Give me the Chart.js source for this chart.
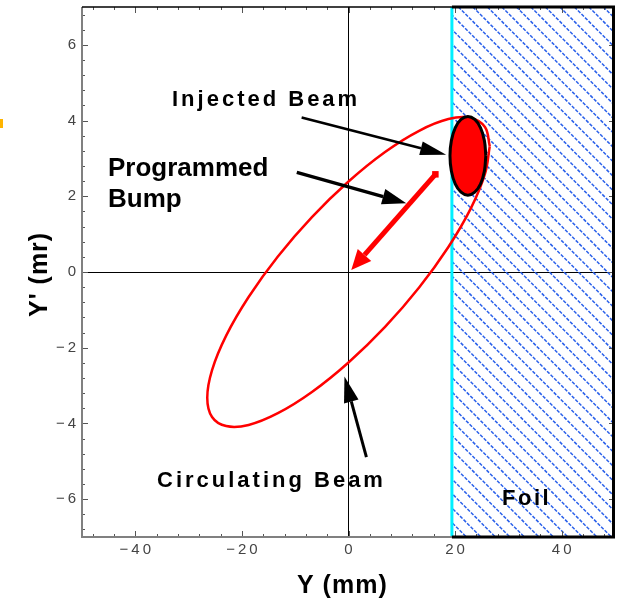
<!DOCTYPE html>
<html lang="en">
<head>
<meta charset="utf-8">
<script src="https://cdn.jsdelivr.net/npm/chart.js@4.4.1/dist/chart.umd.min.js"></script>
<style>
  body { margin: 0; background: #fff; }
</style>
</head>
<body>
<canvas id="phase" width="620" height="600"></canvas>
<script>
// circulating beam ellipse (Y in mm, Y' in mr)
const circY  = [26.5, 25.6, 22.95, 18.74, 13.25, 6.86, 0, -6.86, -13.25, -18.74, -22.95, -25.6,
                -26.5, -25.6, -22.95, -18.74, -13.25, -6.86, 0, 6.86, 13.25, 18.74, 22.95, 25.6, 26.5];
const circYp = [3.32, 2.59, 1.68, 0.66, -0.41, -1.45, -2.39, -3.17, -3.73, -4.04, -4.07, -3.83,
                -3.32, -2.59, -1.68, -0.66, 0.41, 1.45, 2.39, 3.17, 3.73, 4.04, 4.07, 3.83, 3.32];

// injected beam spot
const injY  = [25.76, 25.50, 24.78, 23.69, 22.4, 21.11, 20.02, 19.30, 19.04, 19.30, 20.02, 21.11, 22.4, 23.69, 24.78, 25.50, 25.76];
const injYp = [3.07, 3.47, 3.81, 4.03, 4.11, 4.03, 3.81, 3.47, 3.07, 2.67, 2.33, 2.11, 2.03, 2.11, 2.33, 2.67, 3.07];

// arrows: tail, then base of the head
const injArrowY   = [-8.8, 13.6],  injArrowYp   = [4.08, 3.27];
const bumpArrowY  = [-9.7, 6.5],   bumpArrowYp  = [2.63, 1.99];
const redArrowY   = [16.3, 3.0],   redArrowYp   = [2.58, 0.45];
const circArrowY  = [3.36, 0.52],  circArrowYp  = [-4.89, -3.42];

// foil starts here and runs to the edge of the plot
const foilEdge = 19.4;
const xRange = [-50, 50], yRange = [-7, 7];
const xMajor = 20, yMajor = 2;
const xMinorStep = 4, yMinorStep = 0.4;

function pts(xs, ys) { return xs.map((x, i) => ({x: x, y: ys[i]})); }

function tickList(lo, hi, step) {
  const out = [];
  for (let k = Math.ceil(lo / step - 1e-9); k * step <= hi + 1e-9; k++) out.push({value: Math.round(k * step * 1000) / 1000});
  return out;
}

function fmt(v) {
  const s = String(Math.abs(v)).split('').join('\u2009');
  return v < 0 ? '\u2212\u2009' + s : s;
}
function isMajor(v, step) { return Math.abs(v - step * Math.round(v / step)) < 1e-6; }

function spaced(ctx, text, x, y, sp) {
  let cx = x;
  for (const ch of text) {
    ctx.fillText(ch, cx, y);
    cx += ctx.measureText(ch).width + sp;
  }
}

const decor = {
  id: 'decor',
  beforeDatasetsDraw(chart) {
    const {ctx, chartArea: a, scales: {x}} = chart;
    const xl = x.getPixelForValue(foilEdge), xr = a.right;
    ctx.save();
    ctx.beginPath();
    ctx.rect(xl, a.top, xr - xl, a.bottom - a.top);
    ctx.clip();
    ctx.strokeStyle = '#2a60ea';
    ctx.lineWidth = 1.5;
    ctx.setLineDash([3.5, 1.5]);
    const h = a.bottom - a.top;
    for (let c = xl - h; c < xr; c += 14.5) {
      ctx.beginPath();
      ctx.moveTo(c, a.top);
      ctx.lineTo(c + h, a.bottom);
      ctx.stroke();
    }
    ctx.restore();
  },
  afterDatasetsDraw(chart) {
    const {ctx, chartArea: a, scales: {x, y}} = chart;
    ctx.save();
    // arrow heads
    chart.data.datasets.forEach((ds, i) => {
      if (!ds.head) return;
      const d = chart.getDatasetMeta(i).data;
      const p0 = d[d.length - 2], p1 = d[d.length - 1];
      const dx = p1.x - p0.x, dy = p1.y - p0.y, len = Math.hypot(dx, dy);
      const ux = dx / len, uy = dy / len;
      const [L, W] = ds.head;
      ctx.fillStyle = ds.borderColor;
      ctx.beginPath();
      ctx.moveTo(p1.x + ux * L, p1.y + uy * L);
      ctx.lineTo(p1.x - uy * W, p1.y + ux * W);
      ctx.lineTo(p1.x + uy * W, p1.y - ux * W);
      ctx.closePath();
      ctx.fill();
    });
    // inward ticks on all four sides
    ctx.strokeStyle = '#555';
    ctx.lineWidth = 1;
    x.ticks.forEach(t => {
      const px = Math.round(x.getPixelForValue(t.value)) + 0.5;
      const l = isMajor(t.value, xMajor) ? 6 : 3;
      ctx.beginPath();
      ctx.moveTo(px, a.bottom); ctx.lineTo(px, a.bottom - l);
      ctx.moveTo(px, a.top); ctx.lineTo(px, a.top + l);
      ctx.stroke();
    });
    y.ticks.forEach(t => {
      const py = Math.round(y.getPixelForValue(t.value)) + 0.5;
      const l = isMajor(t.value, yMajor) ? 6 : 3;
      ctx.beginPath();
      ctx.moveTo(a.left, py); ctx.lineTo(a.left + l, py);
      ctx.moveTo(a.right, py); ctx.lineTo(a.right - l, py);
      ctx.stroke();
    });
    // frame
    const xf = x.getPixelForValue(foilEdge);
    ctx.strokeStyle = '#808080';
    ctx.lineWidth = 2;
    ctx.beginPath();
    ctx.moveTo(a.left, a.top); ctx.lineTo(a.left, a.bottom + 1);
    ctx.moveTo(a.left - 1, a.bottom); ctx.lineTo(xf, a.bottom);
    ctx.stroke();
    ctx.strokeStyle = '#000';
    ctx.lineWidth = 1.5;
    ctx.beginPath();
    ctx.moveTo(a.left, a.top); ctx.lineTo(xf, a.top);
    ctx.stroke();
    ctx.lineWidth = 3;
    ctx.beginPath();
    ctx.moveTo(xf, a.top); ctx.lineTo(a.right - 1.5, a.top);
    ctx.lineTo(a.right - 1.5, a.bottom); ctx.lineTo(xf, a.bottom);
    ctx.stroke();
    ctx.restore();
  },
  afterDraw(chart) {
    const {ctx} = chart;
    ctx.save();
    ctx.fillStyle = '#000';
    ctx.textBaseline = 'alphabetic';
    ctx.font = 'bold 22px "Liberation Sans", Arial, sans-serif';
    spaced(ctx, 'Injected Beam', 172, 106, 3);
    spaced(ctx, 'Circulating Beam', 157, 487, 3);
    spaced(ctx, 'Foil', 502, 505, 2.5);
    ctx.font = 'bold 26px "Liberation Sans", Arial, sans-serif';
    ctx.fillText('Programmed', 108, 176);
    ctx.fillText('Bump', 108, 207);
    ctx.font = 'bold 25px "Liberation Sans", Arial, sans-serif';
    spaced(ctx, 'Y (mm)', 297, 593, 1);
    ctx.translate(47, 317);
    ctx.rotate(-Math.PI / 2);
    spaced(ctx, "Y' (mr)", 0, 0, 1);
    ctx.restore();
    ctx.fillStyle = '#ffb400';
    ctx.fillRect(0, 119, 3, 9);
  }
};

const base = {showLine: true, pointRadius: 0, fill: false};
const zeroLine = c => c.tick && c.tick.value === 0 ? '#000' : 'rgba(0,0,0,0)';

new Chart(document.getElementById('phase'), {
  type: 'scatter',
  data: {
    datasets: [
      Object.assign({}, base, {label: 'Injected Beam', data: pts(injY, injYp), borderColor: '#000',
        borderWidth: 3, backgroundColor: '#ff0000', fill: 'shape', tension: 0.4}),
      Object.assign({}, base, {label: 'inj arrow', data: pts(injArrowY, injArrowYp), borderColor: '#000',
        borderWidth: 2.5, head: [26, 7]}),
      Object.assign({}, base, {label: 'bump arrow', data: pts(bumpArrowY, bumpArrowYp), borderColor: '#000',
        borderWidth: 3.5, head: [24, 8]}),
      Object.assign({}, base, {label: 'bump', data: pts(redArrowY, redArrowYp), borderColor: '#ff0000',
        borderWidth: 5, head: [20, 9], pointRadius: [4.6, 0], pointStyle: 'rect',
        pointBackgroundColor: '#ff0000', pointBorderWidth: 0}),
      Object.assign({}, base, {label: 'circ arrow', data: pts(circArrowY, circArrowYp), borderColor: '#000',
        borderWidth: 3, head: [26, 7.5]}),
      Object.assign({}, base, {label: 'Circulating Beam', data: pts(circY, circYp), borderColor: '#ff0000',
        borderWidth: 2.5, tension: 0.4}),
      Object.assign({}, base, {label: 'foil edge', data: pts([foilEdge, foilEdge], yRange), borderColor: '#00f0ff',
        borderWidth: 3})
    ]
  },
  options: {
    responsive: false,
    animation: false,
    devicePixelRatio: 1,
    layout: {padding: {left: 0, right: 5, top: 7, bottom: 0}},
    plugins: {legend: {display: false}, tooltip: {enabled: false}},
    scales: {
      x: {
        type: 'linear', min: xRange[0], max: xRange[1],
        afterBuildTicks(s) { s.ticks = tickList(xRange[0], xRange[1], xMinorStep); },
        afterFit(s) { s.height = 63; s.paddingLeft = 0; s.paddingRight = 0; },
        border: {display: false},
        grid: {drawTicks: false, color: zeroLine, lineWidth: 1},
        ticks: {autoSkip: false, maxRotation: 0, padding: 4,
          color: '#444', font: {family: '"Liberation Sans", Arial, sans-serif', size: 15},
          callback: v => isMajor(v, xMajor) ? fmt(v) : ''}
      },
      y: {
        type: 'linear', min: yRange[0], max: yRange[1],
        afterBuildTicks(s) { s.ticks = tickList(yRange[0], yRange[1], yMinorStep); },
        afterFit(s) { s.width = 82; s.paddingTop = 0; s.paddingBottom = 0; },
        border: {display: false},
        grid: {drawTicks: false, color: zeroLine, lineWidth: 1},
        ticks: {autoSkip: false, padding: 6,
          color: '#444', font: {family: '"Liberation Sans", Arial, sans-serif', size: 15},
          callback: v => isMajor(v, yMajor) ? fmt(v) : ''}
      }
    }
  },
  plugins: [decor]
});
</script>
</body>
</html>
